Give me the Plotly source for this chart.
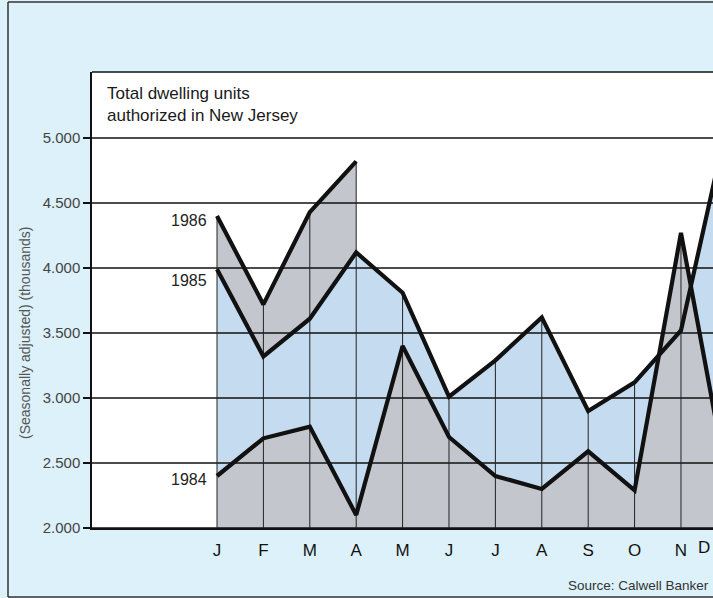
import plotly.graph_objects as go

# ---- data (thousands of dwelling units) ----
months = ["J", "F", "M", "A", "M", "J", "J", "A", "S", "O", "N", "D"]
y1984 = [2.40, 2.69, 2.78, 2.10, 3.40, 2.70, 2.40, 2.30, 2.59, 2.29, 4.27, 2.35]
y1985 = [3.99, 3.32, 3.61, 4.12, 3.81, 3.01, 3.29, 3.62, 2.90, 3.12, 3.52, 5.12]
y1986 = [4.40, 3.72, 4.43, 4.82]
yticks = [2.0, 2.5, 3.0, 3.5, 4.0, 4.5, 5.0]

# ---- styling ----
W, H = 713, 598
ML, MT, MB = 92, 72, 70
PW, PH = W - ML, H - MT - MB
FONT = "Liberation Sans, Arial, Helvetica, sans-serif"
PAGE_BG = "#dcf1f9"
BLUE = "#c5dbef"
GREY = "#c3c7cd"
INK = "#111111"

xr = [-2.694, 10.69]
yr = [2.0, 5.508]

def px_x(p):  # page pixel -> paper x
    return (p - ML) / PW

def px_y(p):  # page pixel -> paper y
    return (H - MB - p) / PH

xs = list(range(len(months)))

fig = go.Figure()

# fills (1986 grey, 1985 blue, 1984 grey on top)
fig.add_trace(go.Scatter(x=xs[:len(y1986)], y=y1986, mode="none", fill="tozeroy",
                         fillcolor=GREY, hoverinfo="skip", showlegend=False))
fig.add_trace(go.Scatter(x=xs, y=y1985, mode="none", fill="tozeroy",
                         fillcolor=BLUE, hoverinfo="skip", showlegend=False))
fig.add_trace(go.Scatter(x=xs, y=y1984, mode="none", fill="tozeroy",
                         fillcolor=GREY, hoverinfo="skip", showlegend=False))

# horizontal grid lines (above fills)
gx, gy = [], []
for t in yticks:
    gx += [xr[0], xr[1], None]
    gy += [t, t, None]
fig.add_trace(go.Scatter(x=gx, y=gy, mode="lines", line=dict(color=INK, width=1.4),
                         hoverinfo="skip", showlegend=False))

# vertical month lines up to the top series
vx, vy = [], []
for i in xs:
    tops = [y1984[i], y1985[i]] + ([y1986[i]] if i < len(y1986) else [])
    vx += [i, i, None]
    vy += [yr[0], max(tops), None]
fig.add_trace(go.Scatter(x=vx, y=vy, mode="lines", line=dict(color="#222222", width=1),
                         hoverinfo="skip", showlegend=False))

# thick series lines
for ys in (y1986, y1985, y1984):
    fig.add_trace(go.Scatter(x=xs[:len(ys)], y=ys, mode="lines",
                             line=dict(color=INK, width=4.2),
                             hoverinfo="skip", showlegend=False))

annotations = [
    dict(x=0, y=y1986[0], xref="x", yref="y", text="1986", showarrow=False,
         xanchor="right", yanchor="middle", xshift=-8, yshift=-4,
         font=dict(family=FONT, size=16, color="#222")),
    dict(x=0, y=y1985[0], xref="x", yref="y", text="1985", showarrow=False,
         xanchor="right", yanchor="middle", xshift=-8, yshift=-11,
         font=dict(family=FONT, size=16, color="#222")),
    dict(x=0, y=y1984[0], xref="x", yref="y", text="1984", showarrow=False,
         xanchor="right", yanchor="middle", xshift=-8, yshift=-3,
         font=dict(family=FONT, size=16, color="#222")),
    dict(x=px_x(105), y=px_y(82), xref="paper", yref="paper",
         text="Total dwelling units<br>authorized in New Jersey", showarrow=False,
         xanchor="left", yanchor="top", align="left",
         font=dict(family=FONT, size=17, color="#1a1a1a")),
    dict(x=px_x(25), y=px_y(333), xref="paper", yref="paper",
         text="(Seasonally adjusted) (thousands)", showarrow=False, textangle=-90,
         xanchor="center", yanchor="middle",
         font=dict(family=FONT, size=14, color="#555")),
    dict(x=px_x(711), y=px_y(585), xref="paper", yref="paper",
         text="Source: Calwell Banker", showarrow=False,
         xanchor="right", yanchor="middle",
         font=dict(family=FONT, size=13.5, color="#333")),
    dict(x=px_x(712), y=px_y(547), xref="paper", yref="paper",
         text=months[11], showarrow=False, xanchor="right", yanchor="middle",
         font=dict(family=FONT, size=17, color="#111")),
]

shapes = [
    # plot box top
    dict(type="line", xref="paper", yref="paper", x0=0, x1=1.1, y0=1, y1=1,
         line=dict(color=INK, width=1.5)),
    # page frame
    dict(type="line", xref="paper", yref="paper", x0=px_x(8), x1=px_x(8),
         y0=px_y(597), y1=px_y(2), line=dict(color="#333", width=1.5)),
    dict(type="line", xref="paper", yref="paper", x0=px_x(8), x1=1.1,
         y0=px_y(2), y1=px_y(2), line=dict(color="#333", width=1.5)),
    dict(type="line", xref="paper", yref="paper", x0=px_x(8), x1=1.1,
         y0=px_y(597), y1=px_y(597), line=dict(color="#333", width=1.5)),
]

fig.update_layout(
    width=W, height=H,
    margin=dict(l=ML, r=0, t=MT, b=MB, pad=0),
    paper_bgcolor=PAGE_BG, plot_bgcolor="white",
    showlegend=False,
    annotations=annotations, shapes=shapes,
    xaxis=dict(range=xr, tickvals=xs[:11], ticktext=months[:11], showgrid=False,
               zeroline=False, showline=True, linecolor=INK, linewidth=2,
               ticks="", ticklabelstandoff=6,
               tickfont=dict(family=FONT, size=17, color="#111")),
    yaxis=dict(range=yr, tickvals=yticks, tickformat=".3f", showgrid=False,
               zeroline=False, showline=True, linecolor=INK, linewidth=1.5,
               ticks="outside", ticklen=7, tickwidth=1.5, tickcolor=INK,
               tickfont=dict(family=FONT, size=15, color="#444")),
)

fig.write_html("out.html")
